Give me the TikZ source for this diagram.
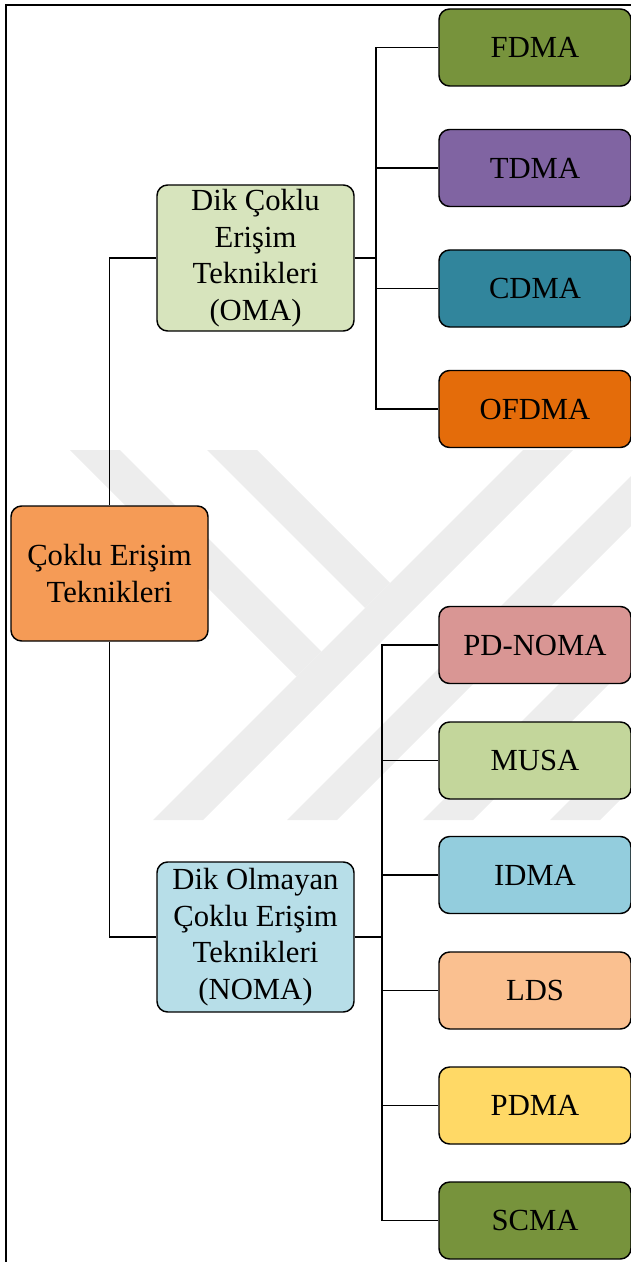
\documentclass[tikz,border=0pt]{standalone}
\usepackage{fontspec}
\setmainfont{Liberation Serif}
\definecolor{rootc}{HTML}{F59B56}
\definecolor{omac}{HTML}{D7E4BD}
\definecolor{nomac}{HTML}{B7DEE8}
\definecolor{fdmac}{HTML}{77933C}
\definecolor{tdmac}{HTML}{8064A2}
\definecolor{cdmac}{HTML}{31859C}
\definecolor{ofdmac}{HTML}{E46C0A}
\definecolor{pdnomac}{HTML}{D99694}
\definecolor{musac}{HTML}{C3D69B}
\definecolor{idmac}{HTML}{93CDDD}
\definecolor{ldsc}{HTML}{FAC090}
\definecolor{pdmac}{HTML}{FFD966}
\definecolor{scmac}{HTML}{77933C}
\definecolor{wmgray}{HTML}{EDEDED}
\begin{document}
\begin{tikzpicture}[x=0.75pt,y=-0.75pt,
  box/.style={draw=black, line width=1.1pt, rounded corners=8pt, align=center,
    inner sep=0pt, text=black, font=\fontsize{23}{27.4}\selectfont},
  leaf/.style={box, minimum width=144pt, minimum height=57.75pt},
  mid/.style={box, minimum width=147.75pt},
  link/.style={draw=black, line width=1.1pt},
  wmband/.style={fill=wmgray, draw=none}]
\useasboundingbox (0,0) rectangle (631,1262);
\clip (0,0) rectangle (631,1262);

% background emblem bands
\fill[wmband] (70,450) -- (120,450) -- (321.5,651.5) -- (296.5,676.5) -- cycle;
\fill[wmband] (207,450) -- (257,450) -- (390,583) -- (365,608) -- cycle;
\fill[wmband] (523,450) -- (573,450) -- (203,820) -- (153,820) -- cycle;
\fill[wmband] (657,450) -- (707,450) -- (337,820) -- (287,820) -- cycle;
\fill[wmband] (823,420) -- (873,420) -- (473,820) -- (423,820) -- cycle;
\fill[wmband] (950,420) -- (1000,420) -- (600,820) -- (550,820) -- cycle;

% page frame
\draw[line width=1.8pt] (6,1262) -- (6,5) -- (632,5);

% main nodes
\node[mid, fill=rootc, minimum height=101.25pt] (root) at (109.5,573.5) {Çoklu Erişim\\Teknikleri};
\node[mid, fill=omac, minimum height=109.5pt] (oma) at (255.5,258) {Dik Çoklu\\Erişim\\Teknikleri\\(OMA)};
\node[mid, fill=nomac, minimum height=112.5pt] (noma) at (255.5,937) {Dik Olmayan\\Çoklu Erişim\\Teknikleri\\(NOMA)};

% orthogonal techniques
\node[leaf, fill=fdmac] (fdma) at (535,47.5) {FDMA};
\node[leaf, fill=tdmac] (tdma) at (535,168) {TDMA};
\node[leaf, fill=cdmac] (cdma) at (535,288.5) {CDMA};
\node[leaf, fill=ofdmac] (ofdma) at (535,409) {OFDMA};

% non-orthogonal techniques
\node[leaf, fill=pdnomac] (pdnoma) at (535,645) {PD-NOMA};
\node[leaf, fill=musac] (musa) at (535,760.5) {MUSA};
\node[leaf, fill=idmac] (idma) at (535,875) {IDMA};
\node[leaf, fill=ldsc] (lds) at (535,990.5) {LDS};
\node[leaf, fill=pdmac] (pdma) at (535,1105.5) {PDMA};
\node[leaf, fill=scmac] (scma) at (535,1220.5) {SCMA};

% connectors
\draw[link] (root.north) |- (oma.west);
\draw[link] (root.south) |- (noma.west);

\coordinate (ob) at (376,258);
\draw[link] (oma.east) -- (ob);
\foreach \c in {fdma,tdma,cdma,ofdma}
  \draw[link] (ob) |- (\c.west);

\coordinate (nb) at (382,937);
\draw[link] (noma.east) -- (nb);
\foreach \c in {pdnoma,musa,idma,lds,pdma,scma}
  \draw[link] (nb) |- (\c.west);
\end{tikzpicture}
\end{document}
